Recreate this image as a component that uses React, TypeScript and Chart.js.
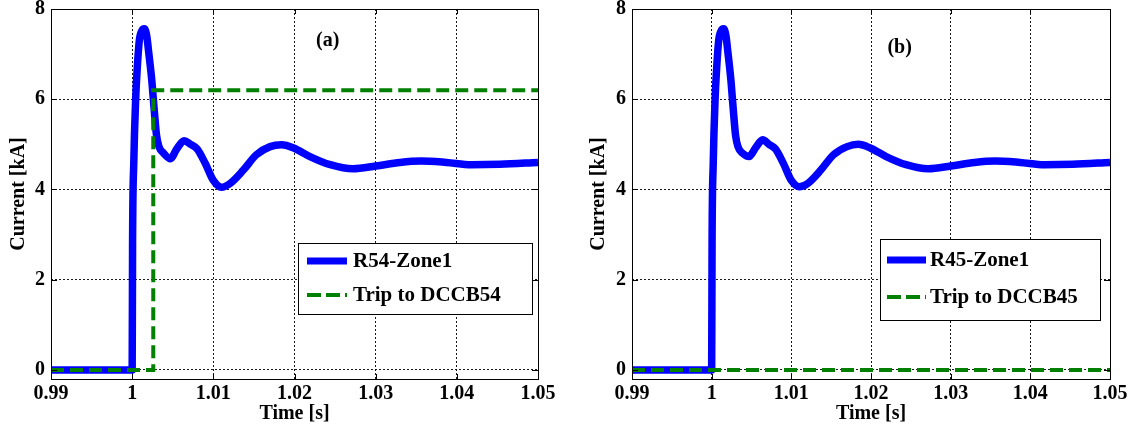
import React, { useEffect, useRef } from "react";
import { Chart, registerables } from "chart.js";

Chart.register(...registerables);

// ---------- data ----------
const xTickValues = [0.99, 1.0, 1.01, 1.02, 1.03, 1.04, 1.05];
const xTickLabels = ["0.99", "1", "1.01", "1.02", "1.03", "1.04", "1.05"];
const yTickValues = [0, 2, 4, 6, 8];
const yTickLabels = ["0", "2", "4", "6", "8"];

const timeR54 = [
  0.99, 1.0, 1.00005, 1.0002, 1.00043, 1.00063, 1.00088, 1.0012, 1.0015, 1.0018,
  1.002, 1.0024, 1.0027, 1.003, 1.0033, 1.0039, 1.0047, 1.0055, 1.0064, 1.0072,
  1.008, 1.009, 1.01, 1.011, 1.0121, 1.0137, 1.0153, 1.017, 1.0184, 1.0199,
  1.0219, 1.0244, 1.0272, 1.03, 1.033, 1.0356, 1.0387, 1.0418, 1.0453, 1.05,
];
const currentR54 = [
  0, 0, 2.8, 4.6, 6.0, 6.7, 7.3, 7.52, 7.56, 7.4,
  7.1, 6.45, 5.8, 5.2, 4.95, 4.8, 4.68, 4.9, 5.08, 5.0,
  4.9, 4.58, 4.2, 4.05, 4.14, 4.43, 4.77, 4.95, 4.99, 4.92,
  4.73, 4.55, 4.46, 4.52, 4.6, 4.63, 4.6, 4.55, 4.56, 4.6,
];
const timeTrip54 = [0.99, 1.0026, 1.0026, 1.05];
const tripDCCB54 = [0, 0, 6.2, 6.2];

const timeR45 = [
  0.99, 1.0, 1.00005, 1.0002, 1.00043, 1.00063, 1.00088, 1.0012, 1.0015, 1.0018,
  1.002, 1.0024, 1.0027, 1.003, 1.0033, 1.0039, 1.0047, 1.0055, 1.0064, 1.0072,
  1.008, 1.009, 1.01, 1.011, 1.0121, 1.0137, 1.0153, 1.017, 1.0184, 1.0199,
  1.0219, 1.0244, 1.0272, 1.03, 1.033, 1.0356, 1.0387, 1.0418, 1.0453, 1.05,
];
const currentR45 = [
  0, 0, 2.8, 4.6, 6.0, 6.7, 7.3, 7.52, 7.56, 7.4,
  7.1, 6.45, 5.8, 5.2, 4.95, 4.8, 4.73, 4.92, 5.1, 5.0,
  4.9, 4.58, 4.2, 4.06, 4.14, 4.43, 4.77, 4.95, 5.0, 4.92,
  4.73, 4.55, 4.46, 4.52, 4.6, 4.63, 4.6, 4.55, 4.56, 4.6,
];
const timeTrip45 = [0.99, 1.05];
const tripDCCB45 = [0, 0];

// ---------- styling ----------
const FAMILY = "'Liberation Serif', 'Times New Roman', serif";
const tickFont = { family: FAMILY, size: 20, weight: "bold" as const };
const titleFont = { family: FAMILY, size: 20, weight: "bold" as const };

type Panel = {
  blueT: number[];
  blueV: number[];
  blueLabel: string;
  greenT: number[];
  greenV: number[];
  greenLabel: string;
  tag: string;
  tagAt: [number, number];
  width: number;
  axisWidth: number;
  padRight: number;
  yTitlePad: number;
  legend: { x: number; y: number; w: number; h: number; s0: number; s1: number; rows: [number, number]; tx: number };
};

const panels: Panel[] = [
  {
    blueT: timeR54, blueV: currentR54, blueLabel: "R54-Zone1",
    greenT: timeTrip54, greenV: tripDCCB54, greenLabel: "Trip to DCCB54",
    tag: "(a)", tagAt: [1.0241, 7.3],
    width: 568, axisWidth: 51, padRight: 30, yTitlePad: 7,
    legend: { x: 298, y: 243, w: 234, h: 71, s0: 307, s1: 347, rows: [261, 295], tx: 353 },
  },
  {
    blueT: timeR45, blueV: currentR45, blueLabel: "R45-Zone1",
    greenT: timeTrip45, greenV: tripDCCB45, greenLabel: "Trip to DCCB45",
    tag: "(b)", tagAt: [1.0236, 7.14],
    width: 569, axisWidth: 64, padRight: 27, yTitlePad: 19,
    legend: { x: 312, y: 239, w: 220, h: 81, s0: 319, s1: 358, rows: [260, 297], tx: 362 },
  },
];

function makePlugins(p: Panel) {
  const frame = {
    id: "frame",
    afterDatasetsDraw(chart: any) {
      const { ctx, chartArea: a } = chart;
      ctx.save();
      ctx.strokeStyle = "#000";
      ctx.lineWidth = 1;
      ctx.setLineDash([]);
      ctx.strokeRect(Math.round(a.left) + 0.5, Math.round(a.top) + 0.5, Math.round(a.right - a.left), Math.round(a.bottom - a.top));
      // inside tick marks
      const xs = chart.scales.x;
      const ys = chart.scales.y;
      ctx.beginPath();
      xTickValues.forEach((v) => {
        const px = Math.round(xs.getPixelForValue(v)) + 0.5;
        ctx.moveTo(px, a.bottom);
        ctx.lineTo(px, a.bottom - 5);
        ctx.moveTo(px, a.top);
        ctx.lineTo(px, a.top + 5);
      });
      yTickValues.forEach((v) => {
        const py = Math.round(ys.getPixelForValue(v)) + 0.5;
        ctx.moveTo(a.left, py);
        ctx.lineTo(a.left + 6, py);
        ctx.moveTo(a.right, py);
        ctx.lineTo(a.right - 6, py);
      });
      ctx.stroke();

      // panel tag
      ctx.fillStyle = "#000";
      ctx.font = `bold 20px ${FAMILY}`;
      ctx.textAlign = "center";
      ctx.textBaseline = "middle";
      ctx.fillText(p.tag, xs.getPixelForValue(p.tagAt[0]), ys.getPixelForValue(p.tagAt[1]));

      // legend
      const L = p.legend;
      ctx.fillStyle = "#fff";
      ctx.fillRect(L.x, L.y, L.w, L.h);
      ctx.strokeStyle = "#000";
      ctx.lineWidth = 1;
      ctx.strokeRect(L.x + 0.5, L.y + 0.5, L.w, L.h);
      ctx.beginPath();
      ctx.strokeStyle = "#0000ff";
      ctx.lineWidth = 7;
      ctx.moveTo(L.s0, L.rows[0]);
      ctx.lineTo(L.s1, L.rows[0]);
      ctx.stroke();
      ctx.beginPath();
      ctx.strokeStyle = "#008000";
      ctx.lineWidth = 4;
      ctx.setLineDash([14, 5]);
      ctx.moveTo(L.s0, L.rows[1]);
      ctx.lineTo(L.s1, L.rows[1]);
      ctx.stroke();
      ctx.setLineDash([]);
      ctx.fillStyle = "#000";
      ctx.font = `bold 21px ${FAMILY}`;
      ctx.textAlign = "left";
      ctx.textBaseline = "middle";
      ctx.fillText(p.blueLabel, L.tx, L.rows[0] + 1);
      ctx.fillText(p.greenLabel, L.tx, L.rows[1] + 1);
      ctx.restore();
    },
  };
  return [frame];
}

function buildConfig(p: Panel): any {
  return {
    type: "line",
    data: {
      datasets: [
        {
          label: p.blueLabel,
          data: p.blueT.map((t, i) => ({ x: t, y: p.blueV[i] })),
          borderColor: "#0000ff",
          backgroundColor: "#0000ff",
          borderWidth: 7.5,
          pointRadius: 0,
          cubicInterpolationMode: "monotone",
          borderJoinStyle: "round",
          borderCapStyle: "butt",
          clip: { left: 0, right: 0, top: 6, bottom: 6 },
          order: 2,
        },
        {
          label: p.greenLabel,
          data: p.greenT.map((t, i) => ({ x: t, y: p.greenV[i] })),
          borderColor: "#008000",
          backgroundColor: "#008000",
          borderWidth: 4,
          borderDash: [13, 6],
          pointRadius: 0,
          tension: 0,
          clip: { left: 0, right: 0, top: 6, bottom: 6 },
          order: 1,
        },
      ],
    },
    options: {
      animation: false,
      responsive: false,
      events: [],
      layout: { padding: { top: 9, right: p.padRight, bottom: 0, left: 0 } },
      plugins: { legend: { display: false }, tooltip: { enabled: false } },
      scales: {
        x: {
          type: "linear",
          min: 0.99,
          max: 1.05,
          afterBuildTicks: (s: any) => {
            s.ticks = xTickValues.map((v) => ({ value: v }));
          },
          afterFit: (s: any) => {
            s.height = 56;
            s.paddingLeft = 0;
            s.paddingRight = 0;
          },
          ticks: {
            callback: (_v: any, i: number) => xTickLabels[i],
            font: tickFont,
            color: "#000",
            padding: 3,
            maxRotation: 0,
            autoSkip: false,
          },
          grid: { color: "rgba(0,0,0,0.9)", lineWidth: 1, drawTicks: false },
          border: { display: false, dash: [2, 2] },
          title: { display: true, text: "Time [s]", font: titleFont, color: "#000", padding: { top: 0, bottom: 9 } },
        },
        y: {
          type: "linear",
          min: -0.2,
          max: 8,
          afterBuildTicks: (s: any) => {
            s.ticks = yTickValues.map((v) => ({ value: v }));
          },
          afterFit: (s: any) => {
            s.width = p.axisWidth;
            s.paddingTop = 0;
            s.paddingBottom = 0;
          },
          ticks: {
            callback: (_v: any, i: number) => yTickLabels[i],
            font: tickFont,
            color: "#000",
            padding: 6,
            autoSkip: false,
          },
          grid: { color: "rgba(0,0,0,0.9)", lineWidth: 1, drawTicks: false },
          border: { display: false, dash: [2, 2] },
          title: { display: true, text: "Current [kA]", font: titleFont, color: "#000", padding: { top: p.yTitlePad, bottom: 0 } },
        },
      },
    },
    plugins: makePlugins(p),
  };
}

export default function App() {
  const leftRef = useRef<HTMLCanvasElement>(null);
  const rightRef = useRef<HTMLCanvasElement>(null);

  useEffect(() => {
    const c1 = new Chart(leftRef.current as HTMLCanvasElement, buildConfig(panels[0]));
    const c2 = new Chart(rightRef.current as HTMLCanvasElement, buildConfig(panels[1]));
    return () => {
      c1.destroy();
      c2.destroy();
    };
  }, []);

  return (
    <div style={{ position: "fixed", left: 0, top: 0, width: 1137, height: 435, background: "#fff" }}>
      <canvas ref={leftRef} width={568} height={435} style={{ position: "absolute", left: 0, top: 0 }} />
      <canvas ref={rightRef} width={569} height={435} style={{ position: "absolute", left: 568, top: 0 }} />
    </div>
  );
}
